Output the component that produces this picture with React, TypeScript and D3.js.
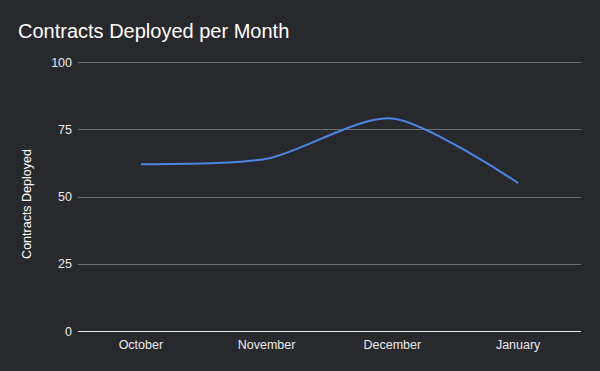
import { curveCardinal, line as d3_line, scaleBand, scaleLinear } from "d3";

const months = ["October", "November", "December", "January"];
const deployed = [62, 64, 79, 55];
const yTicks = [0, 25, 50, 75, 100];

const W = 600;
const H = 371;
const m = { top: 62, right: 19, bottom: 40, left: 78 };

export default function App() {
  const x = scaleBand<string>()
    .domain(months)
    .range([m.left, W - m.right]);
  const y = scaleLinear()
    .domain([0, 100])
    .range([H - m.bottom, m.top]);

  const path = d3_line<number>()
    .x((_, i) => x(months[i])! + x.bandwidth() / 2)
    .y((d) => y(d))
    .curve(curveCardinal.tension(0.2))(deployed);

  const font = "'Liberation Sans', Arial, sans-serif";

  return (
    <svg
      width={W}
      height={H}
      style={{ position: "absolute", left: 0, top: 0, display: "block" }}
      fontFamily={font}
    >
      <rect width={W} height={H} fill="#28292c" />
      <text x={18} y={38} fontSize={20} fill="#ffffff">
        Contracts Deployed per Month
      </text>

      {/* grid */}
      {yTicks.map((t) => (
        <g key={t}>
          <line
            x1={m.left}
            x2={W - m.right}
            y1={Math.round(y(t)) + 0.5}
            y2={Math.round(y(t)) + 0.5}
            stroke={t === 0 ? "#e8eaed" : "#6b6d70"}
            strokeWidth={1}
          />
          <text
            x={72}
            y={y(t) + 4.5}
            textAnchor="end"
            fontSize={12.5}
            fill="#e8eaed"
          >
            {t}
          </text>
        </g>
      ))}

      {/* x labels */}
      {months.map((mo) => (
        <text
          key={mo}
          x={x(mo)! + x.bandwidth() / 2}
          y={349}
          textAnchor="middle"
          fontSize={12.5}
          fill="#e8eaed"
        >
          {mo}
        </text>
      ))}

      <text
        transform={`translate(31,204) rotate(-90)`}
        textAnchor="middle"
        fontSize={12.5}
        fill="#ffffff"
      >
        Contracts Deployed
      </text>

      <path d={path!} fill="none" stroke="#4a86e8" strokeWidth={2} />
    </svg>
  );
}
